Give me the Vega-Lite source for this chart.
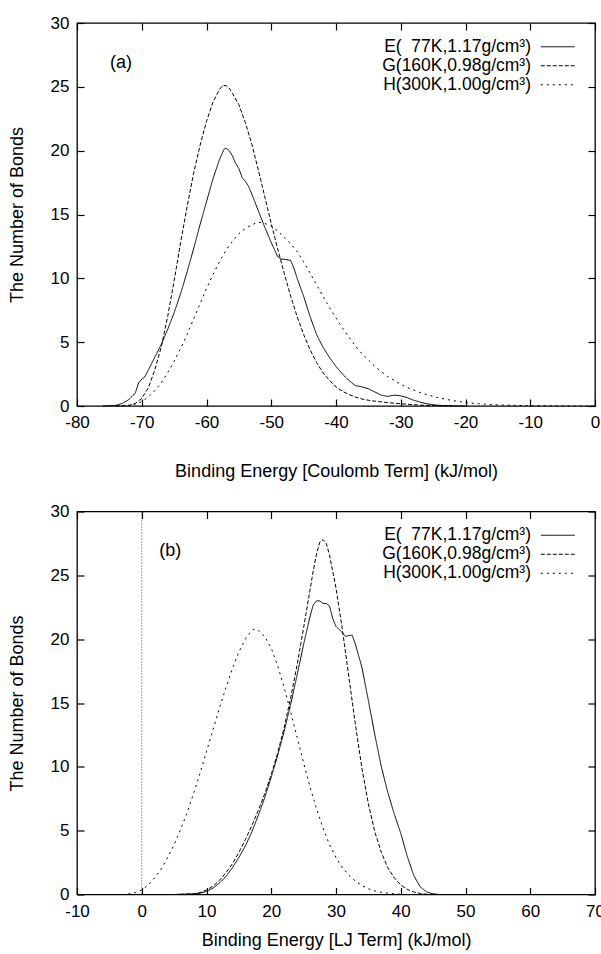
{
  "$schema": "https://vega.github.io/schema/vega-lite/v6.json",
  "autosize": {"type": "pad"},
  "padding": {"left": 7, "top": 13, "right": 0, "bottom": 0},
  "background": "white",
  "config": {
    "font": "Liberation Sans",
    "view": {"stroke": "black", "strokeWidth": 1.3},
    "axis": {"domain": false, "grid": false, "offset": -7, "tickColor": "black", "tickSize": 7, "tickWidth": 1.2, "labelFlush": false, "labelFont": "Liberation Sans", "labelFontSize": 17, "labelColor": "black", "labelExpr": "toString(datum.value)", "titleFont": "Liberation Sans", "titleFontSize": 18, "titleFontWeight": "normal", "titleColor": "black"},
    "legend": {"orient": "none", "legendX": 472, "legendY": 15, "title": null, "symbolType": "M-3,0L3,0", "symbolSize": 128, "symbolStrokeColor": "black", "symbolStrokeWidth": 1, "labelFont": "Liberation Sans", "labelFontSize": 17.5, "labelColor": "black", "labelAlign": "right", "labelOffset": -35.5, "rowPadding": 0, "padding": 0, "offset": 0}
  },
  "spacing": 19.5,
  "datasets": {
    "a": [
      {"s":"E(\u00a0\u00a077K,1.17g/cm³)","x":-76,"n":0},{"s":"E(\u00a0\u00a077K,1.17g/cm³)","x":-74,"n":0.05},{"s":"E(\u00a0\u00a077K,1.17g/cm³)","x":-73,"n":0.2},{"s":"E(\u00a0\u00a077K,1.17g/cm³)","x":-72,"n":0.5},{"s":"E(\u00a0\u00a077K,1.17g/cm³)","x":-71,"n":1.0},{"s":"E(\u00a0\u00a077K,1.17g/cm³)","x":-70.5,"n":1.8},{"s":"E(\u00a0\u00a077K,1.17g/cm³)","x":-70,"n":2.1},{"s":"E(\u00a0\u00a077K,1.17g/cm³)","x":-69.5,"n":2.3},{"s":"E(\u00a0\u00a077K,1.17g/cm³)","x":-69,"n":2.8},{"s":"E(\u00a0\u00a077K,1.17g/cm³)","x":-68,"n":3.8},{"s":"E(\u00a0\u00a077K,1.17g/cm³)","x":-67,"n":4.8},{"s":"E(\u00a0\u00a077K,1.17g/cm³)","x":-66,"n":6.0},{"s":"E(\u00a0\u00a077K,1.17g/cm³)","x":-65,"n":7.3},{"s":"E(\u00a0\u00a077K,1.17g/cm³)","x":-64,"n":8.8},{"s":"E(\u00a0\u00a077K,1.17g/cm³)","x":-63,"n":10.5},{"s":"E(\u00a0\u00a077K,1.17g/cm³)","x":-62,"n":12.3},{"s":"E(\u00a0\u00a077K,1.17g/cm³)","x":-61,"n":14.2},{"s":"E(\u00a0\u00a077K,1.17g/cm³)","x":-60,"n":16.0},{"s":"E(\u00a0\u00a077K,1.17g/cm³)","x":-59,"n":17.8},{"s":"E(\u00a0\u00a077K,1.17g/cm³)","x":-58,"n":19.3},{"s":"E(\u00a0\u00a077K,1.17g/cm³)","x":-57.3,"n":20.1},{"s":"E(\u00a0\u00a077K,1.17g/cm³)","x":-57,"n":20.2},{"s":"E(\u00a0\u00a077K,1.17g/cm³)","x":-56.5,"n":20.0},{"s":"E(\u00a0\u00a077K,1.17g/cm³)","x":-56,"n":19.6},{"s":"E(\u00a0\u00a077K,1.17g/cm³)","x":-55.5,"n":19.0},{"s":"E(\u00a0\u00a077K,1.17g/cm³)","x":-55,"n":18.6},{"s":"E(\u00a0\u00a077K,1.17g/cm³)","x":-54.5,"n":17.9},{"s":"E(\u00a0\u00a077K,1.17g/cm³)","x":-54,"n":17.6},{"s":"E(\u00a0\u00a077K,1.17g/cm³)","x":-53.5,"n":17.2},{"s":"E(\u00a0\u00a077K,1.17g/cm³)","x":-53,"n":16.6},{"s":"E(\u00a0\u00a077K,1.17g/cm³)","x":-52,"n":15.3},{"s":"E(\u00a0\u00a077K,1.17g/cm³)","x":-51,"n":14.0},{"s":"E(\u00a0\u00a077K,1.17g/cm³)","x":-50,"n":12.8},{"s":"E(\u00a0\u00a077K,1.17g/cm³)","x":-49,"n":11.7},{"s":"E(\u00a0\u00a077K,1.17g/cm³)","x":-48.5,"n":11.5},{"s":"E(\u00a0\u00a077K,1.17g/cm³)","x":-48,"n":11.5},{"s":"E(\u00a0\u00a077K,1.17g/cm³)","x":-47,"n":11.4},{"s":"E(\u00a0\u00a077K,1.17g/cm³)","x":-46.5,"n":10.8},{"s":"E(\u00a0\u00a077K,1.17g/cm³)","x":-46,"n":10.0},{"s":"E(\u00a0\u00a077K,1.17g/cm³)","x":-45,"n":8.6},{"s":"E(\u00a0\u00a077K,1.17g/cm³)","x":-44,"n":7.0},{"s":"E(\u00a0\u00a077K,1.17g/cm³)","x":-43,"n":5.6},{"s":"E(\u00a0\u00a077K,1.17g/cm³)","x":-42,"n":4.6},{"s":"E(\u00a0\u00a077K,1.17g/cm³)","x":-41,"n":3.8},{"s":"E(\u00a0\u00a077K,1.17g/cm³)","x":-40,"n":3.1},{"s":"E(\u00a0\u00a077K,1.17g/cm³)","x":-39,"n":2.5},{"s":"E(\u00a0\u00a077K,1.17g/cm³)","x":-38,"n":2.0},{"s":"E(\u00a0\u00a077K,1.17g/cm³)","x":-37,"n":1.6},{"s":"E(\u00a0\u00a077K,1.17g/cm³)","x":-36,"n":1.5},{"s":"E(\u00a0\u00a077K,1.17g/cm³)","x":-35,"n":1.35},{"s":"E(\u00a0\u00a077K,1.17g/cm³)","x":-34,"n":1.1},{"s":"E(\u00a0\u00a077K,1.17g/cm³)","x":-33,"n":0.85},{"s":"E(\u00a0\u00a077K,1.17g/cm³)","x":-32,"n":0.75},{"s":"E(\u00a0\u00a077K,1.17g/cm³)","x":-31,"n":0.85},{"s":"E(\u00a0\u00a077K,1.17g/cm³)","x":-30,"n":0.8},{"s":"E(\u00a0\u00a077K,1.17g/cm³)","x":-29,"n":0.65},{"s":"E(\u00a0\u00a077K,1.17g/cm³)","x":-28,"n":0.45},{"s":"E(\u00a0\u00a077K,1.17g/cm³)","x":-27,"n":0.3},{"s":"E(\u00a0\u00a077K,1.17g/cm³)","x":-26,"n":0.18},{"s":"E(\u00a0\u00a077K,1.17g/cm³)","x":-25,"n":0.1},{"s":"E(\u00a0\u00a077K,1.17g/cm³)","x":-24,"n":0.05},{"s":"E(\u00a0\u00a077K,1.17g/cm³)","x":-22,"n":0.02},{"s":"E(\u00a0\u00a077K,1.17g/cm³)","x":-20,"n":0},
      {"s":"G(160K,0.98g/cm³)","x":-74,"n":0},{"s":"G(160K,0.98g/cm³)","x":-72,"n":0.05},{"s":"G(160K,0.98g/cm³)","x":-71,"n":0.2},{"s":"G(160K,0.98g/cm³)","x":-70,"n":0.6},{"s":"G(160K,0.98g/cm³)","x":-69,"n":1.4},{"s":"G(160K,0.98g/cm³)","x":-68,"n":2.8},{"s":"G(160K,0.98g/cm³)","x":-67,"n":4.6},{"s":"G(160K,0.98g/cm³)","x":-66,"n":7.0},{"s":"G(160K,0.98g/cm³)","x":-65,"n":9.8},{"s":"G(160K,0.98g/cm³)","x":-64,"n":12.8},{"s":"G(160K,0.98g/cm³)","x":-63,"n":15.6},{"s":"G(160K,0.98g/cm³)","x":-62,"n":18.2},{"s":"G(160K,0.98g/cm³)","x":-61,"n":20.4},{"s":"G(160K,0.98g/cm³)","x":-60,"n":22.3},{"s":"G(160K,0.98g/cm³)","x":-59,"n":23.8},{"s":"G(160K,0.98g/cm³)","x":-58,"n":24.8},{"s":"G(160K,0.98g/cm³)","x":-57.5,"n":25.1},{"s":"G(160K,0.98g/cm³)","x":-57,"n":25.1},{"s":"G(160K,0.98g/cm³)","x":-56.5,"n":24.9},{"s":"G(160K,0.98g/cm³)","x":-56,"n":24.5},{"s":"G(160K,0.98g/cm³)","x":-55,"n":23.6},{"s":"G(160K,0.98g/cm³)","x":-54,"n":22.2},{"s":"G(160K,0.98g/cm³)","x":-53,"n":20.5},{"s":"G(160K,0.98g/cm³)","x":-52,"n":18.5},{"s":"G(160K,0.98g/cm³)","x":-51,"n":16.4},{"s":"G(160K,0.98g/cm³)","x":-50,"n":14.3},{"s":"G(160K,0.98g/cm³)","x":-49,"n":12.3},{"s":"G(160K,0.98g/cm³)","x":-48,"n":10.4},{"s":"G(160K,0.98g/cm³)","x":-47,"n":8.6},{"s":"G(160K,0.98g/cm³)","x":-46,"n":7.0},{"s":"G(160K,0.98g/cm³)","x":-45,"n":5.6},{"s":"G(160K,0.98g/cm³)","x":-44,"n":4.4},{"s":"G(160K,0.98g/cm³)","x":-43,"n":3.4},{"s":"G(160K,0.98g/cm³)","x":-42,"n":2.6},{"s":"G(160K,0.98g/cm³)","x":-41,"n":2.0},{"s":"G(160K,0.98g/cm³)","x":-40,"n":1.5},{"s":"G(160K,0.98g/cm³)","x":-39,"n":1.15},{"s":"G(160K,0.98g/cm³)","x":-38,"n":0.9},{"s":"G(160K,0.98g/cm³)","x":-37,"n":0.7},{"s":"G(160K,0.98g/cm³)","x":-36,"n":0.55},{"s":"G(160K,0.98g/cm³)","x":-35,"n":0.45},{"s":"G(160K,0.98g/cm³)","x":-34,"n":0.38},{"s":"G(160K,0.98g/cm³)","x":-33,"n":0.32},{"s":"G(160K,0.98g/cm³)","x":-32,"n":0.27},{"s":"G(160K,0.98g/cm³)","x":-31,"n":0.22},{"s":"G(160K,0.98g/cm³)","x":-30,"n":0.18},{"s":"G(160K,0.98g/cm³)","x":-29,"n":0.14},{"s":"G(160K,0.98g/cm³)","x":-28,"n":0.1},{"s":"G(160K,0.98g/cm³)","x":-27,"n":0.07},{"s":"G(160K,0.98g/cm³)","x":-26,"n":0.05},{"s":"G(160K,0.98g/cm³)","x":-24,"n":0.02},{"s":"G(160K,0.98g/cm³)","x":-22,"n":0},
      {"s":"H(300K,1.00g/cm³)","x":-74,"n":0},{"s":"H(300K,1.00g/cm³)","x":-72,"n":0.05},{"s":"H(300K,1.00g/cm³)","x":-71,"n":0.15},{"s":"H(300K,1.00g/cm³)","x":-70,"n":0.35},{"s":"H(300K,1.00g/cm³)","x":-69,"n":0.7},{"s":"H(300K,1.00g/cm³)","x":-68,"n":1.2},{"s":"H(300K,1.00g/cm³)","x":-67,"n":1.8},{"s":"H(300K,1.00g/cm³)","x":-66,"n":2.6},{"s":"H(300K,1.00g/cm³)","x":-65,"n":3.5},{"s":"H(300K,1.00g/cm³)","x":-64,"n":4.5},{"s":"H(300K,1.00g/cm³)","x":-63,"n":5.6},{"s":"H(300K,1.00g/cm³)","x":-62,"n":6.8},{"s":"H(300K,1.00g/cm³)","x":-61,"n":8.0},{"s":"H(300K,1.00g/cm³)","x":-60,"n":9.2},{"s":"H(300K,1.00g/cm³)","x":-59,"n":10.3},{"s":"H(300K,1.00g/cm³)","x":-58,"n":11.3},{"s":"H(300K,1.00g/cm³)","x":-57,"n":12.2},{"s":"H(300K,1.00g/cm³)","x":-56,"n":12.9},{"s":"H(300K,1.00g/cm³)","x":-55,"n":13.5},{"s":"H(300K,1.00g/cm³)","x":-54,"n":13.9},{"s":"H(300K,1.00g/cm³)","x":-53,"n":14.2},{"s":"H(300K,1.00g/cm³)","x":-52,"n":14.4},{"s":"H(300K,1.00g/cm³)","x":-51,"n":14.3},{"s":"H(300K,1.00g/cm³)","x":-50,"n":14.1},{"s":"H(300K,1.00g/cm³)","x":-49,"n":13.7},{"s":"H(300K,1.00g/cm³)","x":-48,"n":13.2},{"s":"H(300K,1.00g/cm³)","x":-47,"n":12.7},{"s":"H(300K,1.00g/cm³)","x":-46,"n":12.1},{"s":"H(300K,1.00g/cm³)","x":-45,"n":11.3},{"s":"H(300K,1.00g/cm³)","x":-44,"n":10.4},{"s":"H(300K,1.00g/cm³)","x":-43,"n":9.5},{"s":"H(300K,1.00g/cm³)","x":-42,"n":8.6},{"s":"H(300K,1.00g/cm³)","x":-41,"n":7.7},{"s":"H(300K,1.00g/cm³)","x":-40,"n":6.9},{"s":"H(300K,1.00g/cm³)","x":-39,"n":6.1},{"s":"H(300K,1.00g/cm³)","x":-38,"n":5.4},{"s":"H(300K,1.00g/cm³)","x":-37,"n":4.7},{"s":"H(300K,1.00g/cm³)","x":-36,"n":4.1},{"s":"H(300K,1.00g/cm³)","x":-35,"n":3.6},{"s":"H(300K,1.00g/cm³)","x":-34,"n":3.1},{"s":"H(300K,1.00g/cm³)","x":-33,"n":2.7},{"s":"H(300K,1.00g/cm³)","x":-32,"n":2.3},{"s":"H(300K,1.00g/cm³)","x":-31,"n":2.0},{"s":"H(300K,1.00g/cm³)","x":-30,"n":1.7},{"s":"H(300K,1.00g/cm³)","x":-29,"n":1.45},{"s":"H(300K,1.00g/cm³)","x":-28,"n":1.25},{"s":"H(300K,1.00g/cm³)","x":-27,"n":1.05},{"s":"H(300K,1.00g/cm³)","x":-26,"n":0.9},{"s":"H(300K,1.00g/cm³)","x":-25,"n":0.75},{"s":"H(300K,1.00g/cm³)","x":-24,"n":0.62},{"s":"H(300K,1.00g/cm³)","x":-23,"n":0.52},{"s":"H(300K,1.00g/cm³)","x":-22,"n":0.43},{"s":"H(300K,1.00g/cm³)","x":-21,"n":0.35},{"s":"H(300K,1.00g/cm³)","x":-20,"n":0.28},{"s":"H(300K,1.00g/cm³)","x":-19,"n":0.22},{"s":"H(300K,1.00g/cm³)","x":-18,"n":0.18},{"s":"H(300K,1.00g/cm³)","x":-17,"n":0.14},{"s":"H(300K,1.00g/cm³)","x":-16,"n":0.11},{"s":"H(300K,1.00g/cm³)","x":-15,"n":0.09},{"s":"H(300K,1.00g/cm³)","x":-14,"n":0.07},{"s":"H(300K,1.00g/cm³)","x":-12,"n":0.05},{"s":"H(300K,1.00g/cm³)","x":-10,"n":0.03},{"s":"H(300K,1.00g/cm³)","x":-8,"n":0.02},{"s":"H(300K,1.00g/cm³)","x":-6,"n":0.01},{"s":"H(300K,1.00g/cm³)","x":-4,"n":0},{"s":"H(300K,1.00g/cm³)","x":0,"n":0}
    ],
    "b": [
      {"s":"E(\u00a0\u00a077K,1.17g/cm³)","x":5,"n":0},{"s":"E(\u00a0\u00a077K,1.17g/cm³)","x":8,"n":0.05},{"s":"E(\u00a0\u00a077K,1.17g/cm³)","x":9,"n":0.1},{"s":"E(\u00a0\u00a077K,1.17g/cm³)","x":10,"n":0.25},{"s":"E(\u00a0\u00a077K,1.17g/cm³)","x":11,"n":0.5},{"s":"E(\u00a0\u00a077K,1.17g/cm³)","x":12,"n":0.9},{"s":"E(\u00a0\u00a077K,1.17g/cm³)","x":13,"n":1.4},{"s":"E(\u00a0\u00a077K,1.17g/cm³)","x":14,"n":2.1},{"s":"E(\u00a0\u00a077K,1.17g/cm³)","x":15,"n":2.9},{"s":"E(\u00a0\u00a077K,1.17g/cm³)","x":16,"n":3.8},{"s":"E(\u00a0\u00a077K,1.17g/cm³)","x":17,"n":4.9},{"s":"E(\u00a0\u00a077K,1.17g/cm³)","x":18,"n":6.2},{"s":"E(\u00a0\u00a077K,1.17g/cm³)","x":19,"n":7.6},{"s":"E(\u00a0\u00a077K,1.17g/cm³)","x":20,"n":9.2},{"s":"E(\u00a0\u00a077K,1.17g/cm³)","x":21,"n":10.9},{"s":"E(\u00a0\u00a077K,1.17g/cm³)","x":22,"n":12.8},{"s":"E(\u00a0\u00a077K,1.17g/cm³)","x":23,"n":14.9},{"s":"E(\u00a0\u00a077K,1.17g/cm³)","x":24,"n":17.2},{"s":"E(\u00a0\u00a077K,1.17g/cm³)","x":25,"n":19.6},{"s":"E(\u00a0\u00a077K,1.17g/cm³)","x":26,"n":21.8},{"s":"E(\u00a0\u00a077K,1.17g/cm³)","x":26.5,"n":22.7},{"s":"E(\u00a0\u00a077K,1.17g/cm³)","x":27,"n":23.0},{"s":"E(\u00a0\u00a077K,1.17g/cm³)","x":27.5,"n":23.0},{"s":"E(\u00a0\u00a077K,1.17g/cm³)","x":28,"n":22.8},{"s":"E(\u00a0\u00a077K,1.17g/cm³)","x":28.5,"n":22.8},{"s":"E(\u00a0\u00a077K,1.17g/cm³)","x":29,"n":22.6},{"s":"E(\u00a0\u00a077K,1.17g/cm³)","x":29.5,"n":21.6},{"s":"E(\u00a0\u00a077K,1.17g/cm³)","x":30,"n":21.0},{"s":"E(\u00a0\u00a077K,1.17g/cm³)","x":31,"n":20.5},{"s":"E(\u00a0\u00a077K,1.17g/cm³)","x":31.5,"n":20.2},{"s":"E(\u00a0\u00a077K,1.17g/cm³)","x":32,"n":20.3},{"s":"E(\u00a0\u00a077K,1.17g/cm³)","x":32.5,"n":20.3},{"s":"E(\u00a0\u00a077K,1.17g/cm³)","x":33,"n":19.6},{"s":"E(\u00a0\u00a077K,1.17g/cm³)","x":34,"n":17.8},{"s":"E(\u00a0\u00a077K,1.17g/cm³)","x":35,"n":15.2},{"s":"E(\u00a0\u00a077K,1.17g/cm³)","x":36,"n":12.5},{"s":"E(\u00a0\u00a077K,1.17g/cm³)","x":37,"n":10.0},{"s":"E(\u00a0\u00a077K,1.17g/cm³)","x":38,"n":8.0},{"s":"E(\u00a0\u00a077K,1.17g/cm³)","x":39,"n":6.3},{"s":"E(\u00a0\u00a077K,1.17g/cm³)","x":40,"n":4.8},{"s":"E(\u00a0\u00a077K,1.17g/cm³)","x":41,"n":3.0},{"s":"E(\u00a0\u00a077K,1.17g/cm³)","x":42,"n":1.5},{"s":"E(\u00a0\u00a077K,1.17g/cm³)","x":43,"n":0.6},{"s":"E(\u00a0\u00a077K,1.17g/cm³)","x":44,"n":0.2},{"s":"E(\u00a0\u00a077K,1.17g/cm³)","x":45,"n":0.05},{"s":"E(\u00a0\u00a077K,1.17g/cm³)","x":46,"n":0},
      {"s":"G(160K,0.98g/cm³)","x":5,"n":0},{"s":"G(160K,0.98g/cm³)","x":8,"n":0.05},{"s":"G(160K,0.98g/cm³)","x":9,"n":0.15},{"s":"G(160K,0.98g/cm³)","x":10,"n":0.35},{"s":"G(160K,0.98g/cm³)","x":11,"n":0.65},{"s":"G(160K,0.98g/cm³)","x":12,"n":1.1},{"s":"G(160K,0.98g/cm³)","x":13,"n":1.7},{"s":"G(160K,0.98g/cm³)","x":14,"n":2.4},{"s":"G(160K,0.98g/cm³)","x":15,"n":3.3},{"s":"G(160K,0.98g/cm³)","x":16,"n":4.3},{"s":"G(160K,0.98g/cm³)","x":17,"n":5.4},{"s":"G(160K,0.98g/cm³)","x":18,"n":6.6},{"s":"G(160K,0.98g/cm³)","x":19,"n":7.9},{"s":"G(160K,0.98g/cm³)","x":20,"n":9.4},{"s":"G(160K,0.98g/cm³)","x":21,"n":11.1},{"s":"G(160K,0.98g/cm³)","x":22,"n":13.1},{"s":"G(160K,0.98g/cm³)","x":23,"n":15.4},{"s":"G(160K,0.98g/cm³)","x":24,"n":18.0},{"s":"G(160K,0.98g/cm³)","x":25,"n":20.9},{"s":"G(160K,0.98g/cm³)","x":26,"n":23.9},{"s":"G(160K,0.98g/cm³)","x":26.5,"n":25.4},{"s":"G(160K,0.98g/cm³)","x":27,"n":26.7},{"s":"G(160K,0.98g/cm³)","x":27.5,"n":27.6},{"s":"G(160K,0.98g/cm³)","x":28,"n":27.8},{"s":"G(160K,0.98g/cm³)","x":28.5,"n":27.5},{"s":"G(160K,0.98g/cm³)","x":29,"n":26.6},{"s":"G(160K,0.98g/cm³)","x":30,"n":24.0},{"s":"G(160K,0.98g/cm³)","x":31,"n":20.7},{"s":"G(160K,0.98g/cm³)","x":32,"n":17.0},{"s":"G(160K,0.98g/cm³)","x":33,"n":13.3},{"s":"G(160K,0.98g/cm³)","x":34,"n":9.9},{"s":"G(160K,0.98g/cm³)","x":35,"n":7.1},{"s":"G(160K,0.98g/cm³)","x":36,"n":4.9},{"s":"G(160K,0.98g/cm³)","x":37,"n":3.3},{"s":"G(160K,0.98g/cm³)","x":38,"n":2.1},{"s":"G(160K,0.98g/cm³)","x":39,"n":1.3},{"s":"G(160K,0.98g/cm³)","x":40,"n":0.75},{"s":"G(160K,0.98g/cm³)","x":41,"n":0.4},{"s":"G(160K,0.98g/cm³)","x":42,"n":0.2},{"s":"G(160K,0.98g/cm³)","x":43,"n":0.08},{"s":"G(160K,0.98g/cm³)","x":44,"n":0.02},{"s":"G(160K,0.98g/cm³)","x":45,"n":0},
      {"s":"H(300K,1.00g/cm³)","x":-3,"n":0},{"s":"H(300K,1.00g/cm³)","x":-2,"n":0.05},{"s":"H(300K,1.00g/cm³)","x":-1,"n":0.15},{"s":"H(300K,1.00g/cm³)","x":0,"n":0.35},{"s":"H(300K,1.00g/cm³)","x":1,"n":0.75},{"s":"H(300K,1.00g/cm³)","x":2,"n":1.3},{"s":"H(300K,1.00g/cm³)","x":3,"n":2.0},{"s":"H(300K,1.00g/cm³)","x":4,"n":2.9},{"s":"H(300K,1.00g/cm³)","x":5,"n":3.9},{"s":"H(300K,1.00g/cm³)","x":6,"n":5.1},{"s":"H(300K,1.00g/cm³)","x":7,"n":6.4},{"s":"H(300K,1.00g/cm³)","x":8,"n":7.9},{"s":"H(300K,1.00g/cm³)","x":9,"n":9.5},{"s":"H(300K,1.00g/cm³)","x":10,"n":11.2},{"s":"H(300K,1.00g/cm³)","x":11,"n":12.9},{"s":"H(300K,1.00g/cm³)","x":12,"n":14.6},{"s":"H(300K,1.00g/cm³)","x":13,"n":16.2},{"s":"H(300K,1.00g/cm³)","x":14,"n":17.7},{"s":"H(300K,1.00g/cm³)","x":15,"n":19.0},{"s":"H(300K,1.00g/cm³)","x":16,"n":20.0},{"s":"H(300K,1.00g/cm³)","x":17,"n":20.7},{"s":"H(300K,1.00g/cm³)","x":17.5,"n":20.8},{"s":"H(300K,1.00g/cm³)","x":18,"n":20.7},{"s":"H(300K,1.00g/cm³)","x":19,"n":20.2},{"s":"H(300K,1.00g/cm³)","x":20,"n":19.3},{"s":"H(300K,1.00g/cm³)","x":21,"n":17.9},{"s":"H(300K,1.00g/cm³)","x":22,"n":16.2},{"s":"H(300K,1.00g/cm³)","x":23,"n":14.3},{"s":"H(300K,1.00g/cm³)","x":24,"n":12.3},{"s":"H(300K,1.00g/cm³)","x":25,"n":10.3},{"s":"H(300K,1.00g/cm³)","x":26,"n":8.4},{"s":"H(300K,1.00g/cm³)","x":27,"n":6.7},{"s":"H(300K,1.00g/cm³)","x":28,"n":5.2},{"s":"H(300K,1.00g/cm³)","x":29,"n":3.9},{"s":"H(300K,1.00g/cm³)","x":30,"n":2.9},{"s":"H(300K,1.00g/cm³)","x":31,"n":2.1},{"s":"H(300K,1.00g/cm³)","x":32,"n":1.5},{"s":"H(300K,1.00g/cm³)","x":33,"n":1.05},{"s":"H(300K,1.00g/cm³)","x":34,"n":0.7},{"s":"H(300K,1.00g/cm³)","x":35,"n":0.45},{"s":"H(300K,1.00g/cm³)","x":36,"n":0.28},{"s":"H(300K,1.00g/cm³)","x":37,"n":0.17},{"s":"H(300K,1.00g/cm³)","x":38,"n":0.1},{"s":"H(300K,1.00g/cm³)","x":39,"n":0.05},{"s":"H(300K,1.00g/cm³)","x":40,"n":0.02},{"s":"H(300K,1.00g/cm³)","x":41,"n":0}
    ]
  },
  "vconcat": [
    {
      "width": 518, "height": 383,
      "layer": [
        {
          "data": {"name": "a"},
          "mark": {"type": "line", "color": "black", "strokeWidth": 1},
          "encoding": {
            "x": {"field": "x", "type": "quantitative", "scale": {"domain": [-80, 0], "nice": false}, "axis": {"values": [-80,-70,-60,-50,-40,-30,-20,-10,0], "title": "Binding Energy [Coulomb Term] (kJ/mol)", "labelPadding": 8.5, "titlePadding": 32}},
            "y": {"field": "n", "type": "quantitative", "scale": {"domain": [0, 30], "nice": false}, "axis": {"values": [0,5,10,15,20,25,30], "title": "The Number of Bonds", "labelPadding": 8, "titlePadding": 24}},
            "strokeDash": {"field": "s", "type": "nominal", "scale": {"range": [[1,0],[4,2],[2,4]]}, "legend": {}}
          }
        },
        {
          "data": {"name": "a"},
          "mark": {"type": "point", "opacity": 0},
          "encoding": {
            "x": {"field": "x", "type": "quantitative", "scale": {"domain": [-80, 0], "nice": false}, "axis": {"orient": "top", "labels": false, "title": null, "values": [-80,-70,-60,-50,-40,-30,-20,-10,0]}},
            "y": {"field": "n", "type": "quantitative", "scale": {"domain": [0, 30], "nice": false}, "axis": {"orient": "right", "labels": false, "title": null, "values": [0,5,10,15,20,25,30]}}
          }
        },
        {
          "data": {"values": [{"label": "(a)", "x": -73.2, "n": 26.9}]},
          "mark": {"type": "text", "fontSize": 18, "font": "Liberation Sans", "color": "black"},
          "encoding": {
            "x": {"field": "x", "type": "quantitative", "axis": null},
            "y": {"field": "n", "type": "quantitative", "axis": null},
            "text": {"field": "label"}
          }
        }
      ],
      "resolve": {"axis": {"x": "independent", "y": "independent"}}
    },
    {
      "width": 518, "height": 383,
      "layer": [
        {
          "data": {"values": [{"x": 0}]},
          "mark": {"type": "rule", "color": "#444", "strokeWidth": 1, "strokeDash": [1, 2]},
          "encoding": {"x": {"field": "x", "type": "quantitative", "axis": null}}
        },
        {
          "data": {"name": "b"},
          "mark": {"type": "line", "color": "black", "strokeWidth": 1},
          "encoding": {
            "x": {"field": "x", "type": "quantitative", "scale": {"domain": [-10, 70], "nice": false}, "axis": {"values": [-10,0,10,20,30,40,50,60,70], "title": "Binding Energy [LJ Term] (kJ/mol)", "labelPadding": 8.5, "titlePadding": 12.5}},
            "y": {"field": "n", "type": "quantitative", "scale": {"domain": [0, 30], "nice": false}, "axis": {"values": [0,5,10,15,20,25,30], "title": "The Number of Bonds", "labelPadding": 8, "titlePadding": 24}},
            "strokeDash": {"field": "s", "type": "nominal", "scale": {"range": [[1,0],[4,2],[2,4]]}, "legend": {}}
          }
        },
        {
          "data": {"name": "b"},
          "mark": {"type": "point", "opacity": 0},
          "encoding": {
            "x": {"field": "x", "type": "quantitative", "scale": {"domain": [-10, 70], "nice": false}, "axis": {"orient": "top", "labels": false, "title": null, "values": [-10,0,10,20,30,40,50,60,70]}},
            "y": {"field": "n", "type": "quantitative", "scale": {"domain": [0, 30], "nice": false}, "axis": {"orient": "right", "labels": false, "title": null, "values": [0,5,10,15,20,25,30]}}
          }
        },
        {
          "data": {"values": [{"label": "(b)", "x": 4.4, "n": 26.9}]},
          "mark": {"type": "text", "fontSize": 18, "font": "Liberation Sans", "color": "black"},
          "encoding": {
            "x": {"field": "x", "type": "quantitative", "axis": null},
            "y": {"field": "n", "type": "quantitative", "axis": null},
            "text": {"field": "label"}
          }
        }
      ],
      "resolve": {"axis": {"x": "independent", "y": "independent"}}
    }
  ],
  "resolve": {"scale": {"strokeDash": "independent"}, "legend": {"strokeDash": "independent"}}
}
